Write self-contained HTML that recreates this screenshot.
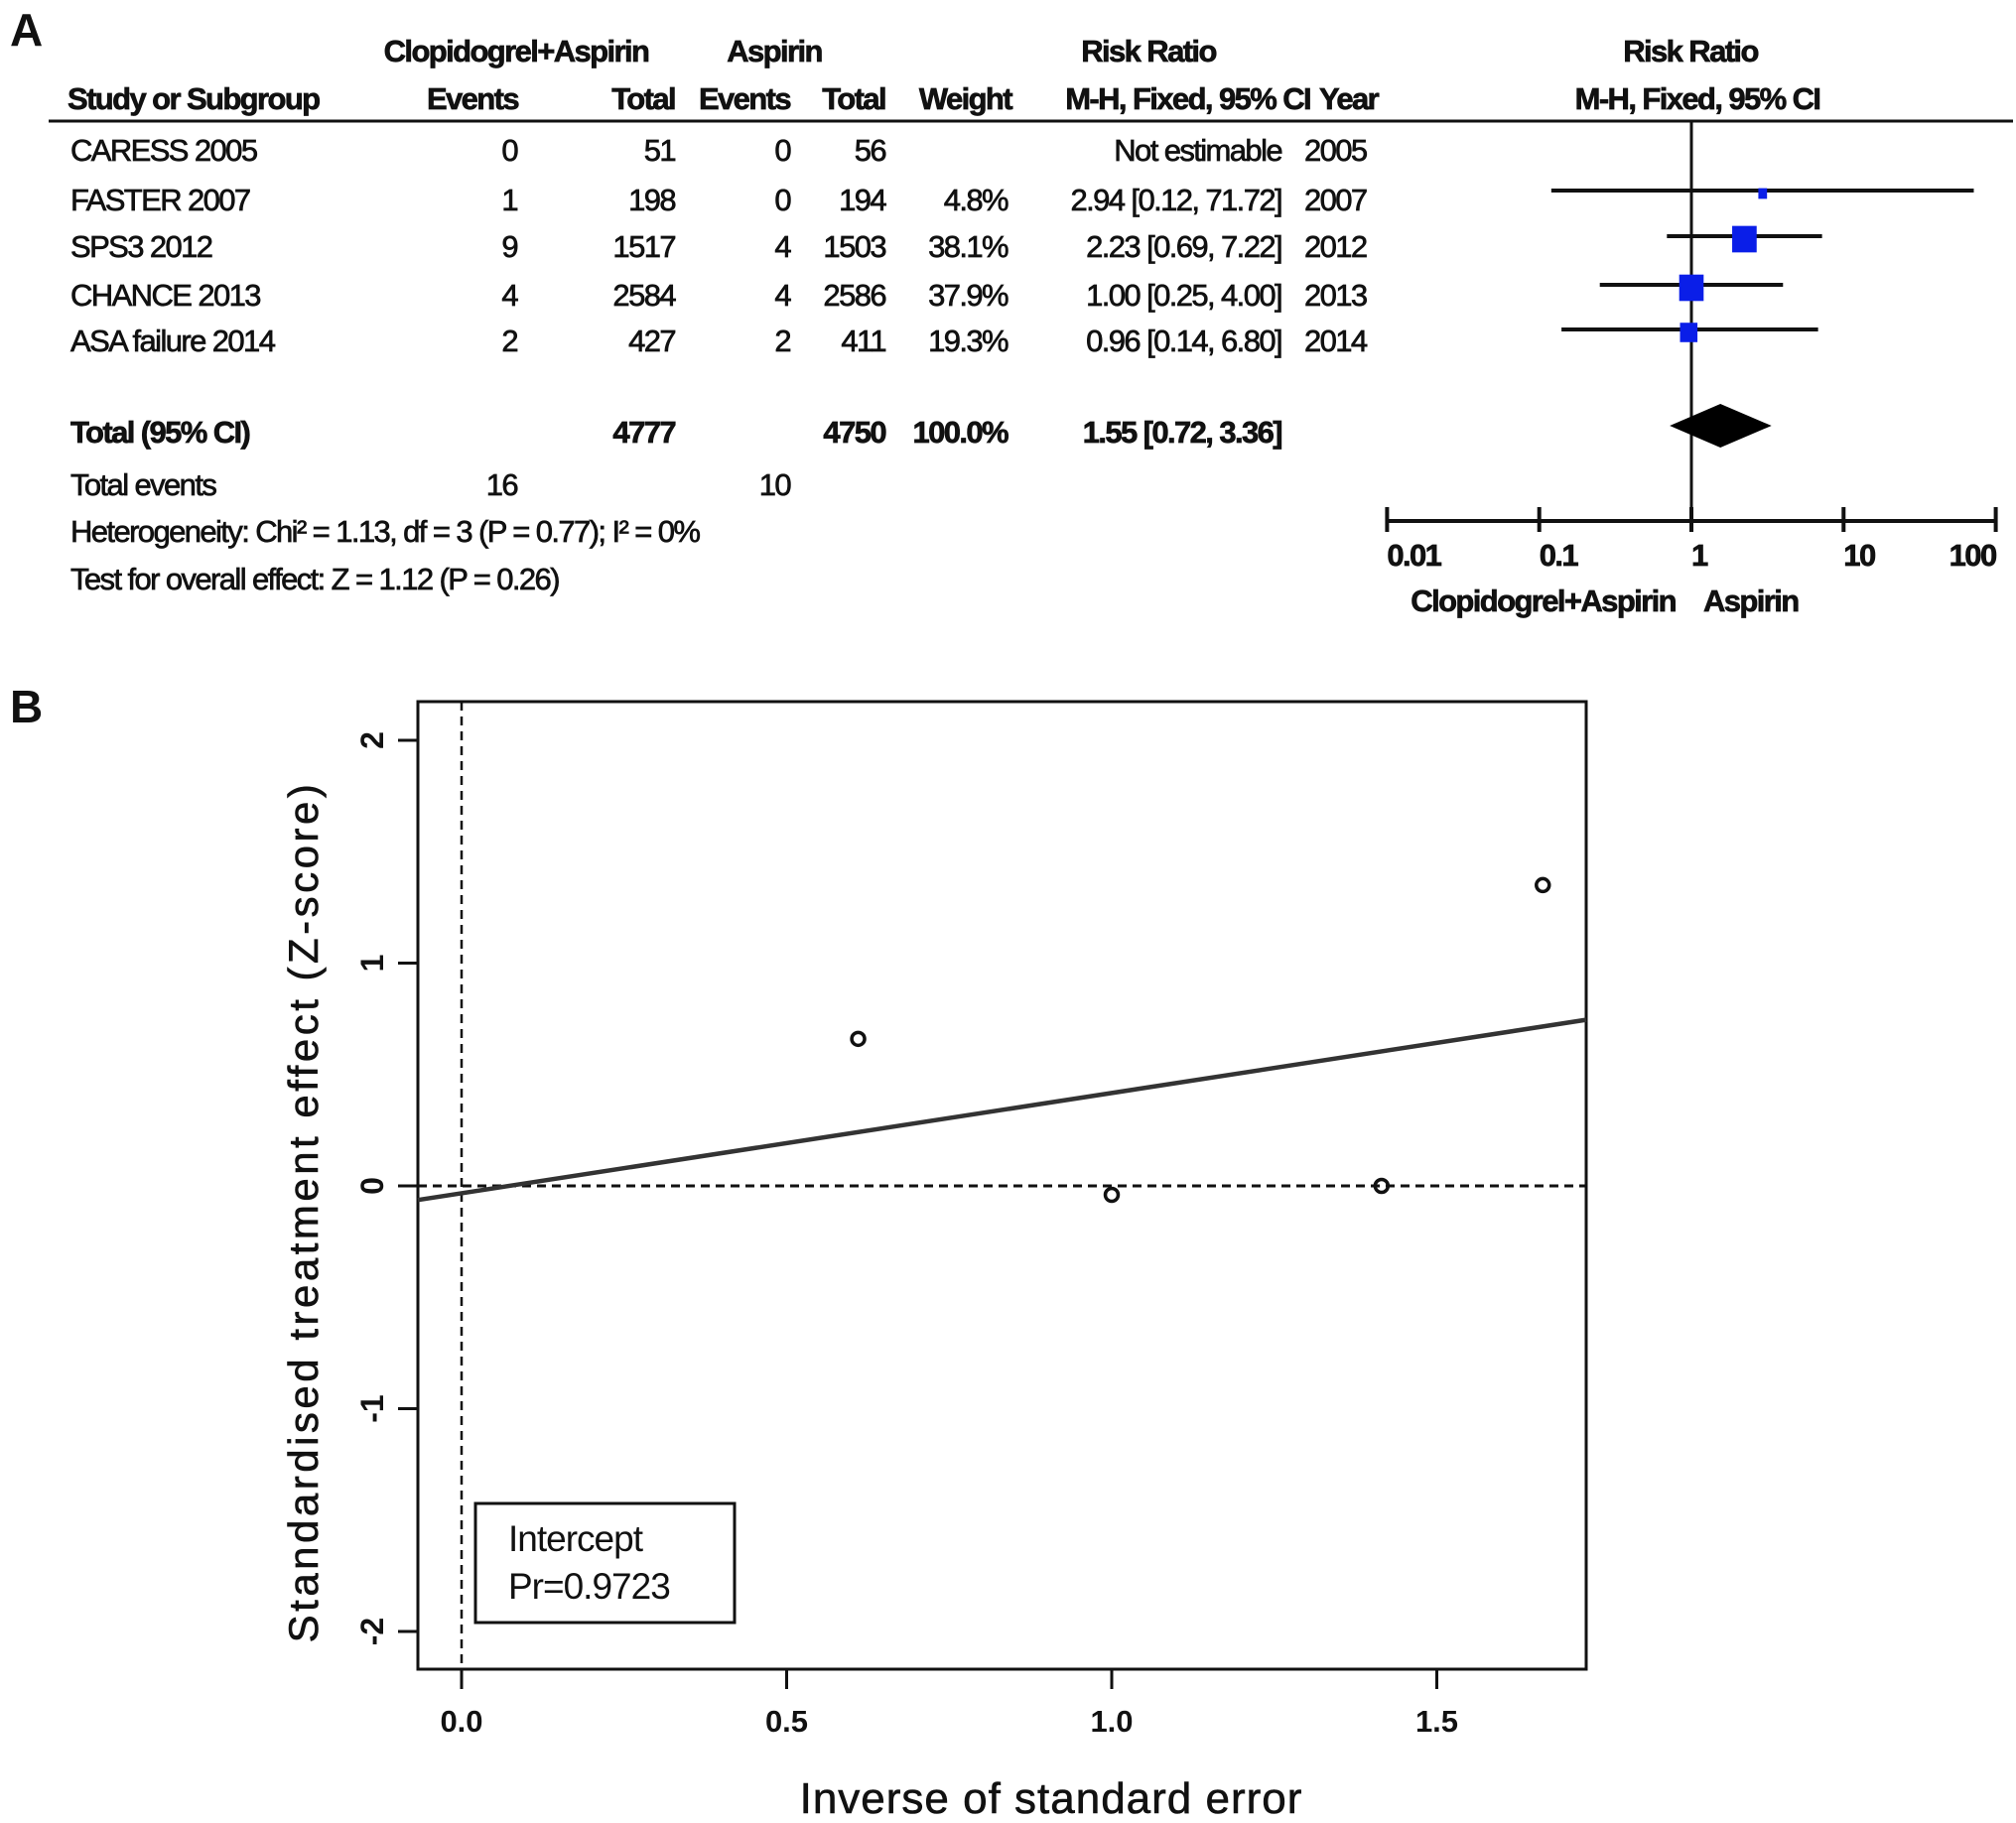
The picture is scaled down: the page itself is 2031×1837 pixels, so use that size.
<!DOCTYPE html>
<html><head><meta charset="utf-8"><style>
html,body{margin:0;padding:0;background:#fff;}
svg{display:block;}
.t{font-family:"Liberation Sans",sans-serif;font-size:31px;fill:#111;letter-spacing:-1.6px;stroke:#111;stroke-width:0.7px;}
.b{font-weight:bold;}
.p{font-family:"Liberation Sans",sans-serif;fill:#111;}
</style></head><body>
<svg id="fig" width="2031" height="1837" viewBox="0 0 2031 1837" xmlns="http://www.w3.org/2000/svg">
<g id="panelA">
<text x="10" y="46" class="p b" font-size="46">A</text>
<text x="520" y="62" text-anchor="middle" class="t b">Clopidogrel+Aspirin</text>
<text x="780" y="62" text-anchor="middle" class="t b">Aspirin</text>
<text x="1157" y="62" text-anchor="middle" class="t b">Risk Ratio</text>
<text x="1703" y="62" text-anchor="middle" class="t b">Risk Ratio</text>
<text x="68" y="110" class="t b">Study or Subgroup</text>
<text x="522" y="110" text-anchor="end" class="t b">Events</text>
<text x="680" y="110" text-anchor="end" class="t b">Total</text>
<text x="796" y="110" text-anchor="end" class="t b">Events</text>
<text x="892" y="110" text-anchor="end" class="t b">Total</text>
<text x="1019" y="110" text-anchor="end" class="t b">Weight</text>
<text x="1320" y="110" text-anchor="end" class="t b">M-H, Fixed, 95% CI</text>
<text x="1329" y="110" class="t b">Year</text>
<text x="1710" y="110" text-anchor="middle" class="t b">M-H, Fixed, 95% CI</text>
<line x1="49" y1="122" x2="2028" y2="122" stroke="#111" stroke-width="3"/>
<g id="rows"></g>
<text x="71" y="446" class="t b">Total (95% CI)</text>
<text x="680" y="446" text-anchor="end" class="t b">4777</text>
<text x="892" y="446" text-anchor="end" class="t b">4750</text>
<text x="1015" y="446" text-anchor="end" class="t b">100.0%</text>
<text x="1291" y="446" text-anchor="end" class="t b">1.55 [0.72, 3.36]</text>
<text x="71" y="499" class="t">Total events</text>
<text x="521" y="499" text-anchor="end" class="t">16</text>
<text x="796" y="499" text-anchor="end" class="t">10</text>
<text x="71" y="546" class="t">Heterogeneity: Chi² = 1.13, df = 3 (P = 0.77); I² = 0%</text>
<text x="71" y="594" class="t">Test for overall effect: Z = 1.12 (P = 0.26)</text>
<g id="forest"></g>
</g>
<g id="panelB">
<text x="10" y="728" class="p b" font-size="46">B</text>
<g id="gal"></g>
</g>
</svg>
<script>
// ---- Forest plot data ----
const studies = ["CARESS 2005","FASTER 2007","SPS3 2012","CHANCE 2013","ASA failure 2014"];
const evC = [0,1,9,4,2];
const totC = [51,198,1517,2584,427];
const evA = [0,0,4,4,2];
const totA = [56,194,1503,2586,411];
const weights = [null,4.8,38.1,37.9,19.3];
const rr = [null,2.94,2.23,1.00,0.96];
const lo = [null,0.12,0.69,0.25,0.14];
const hi = [null,71.72,7.22,4.00,6.80];
const years = [2005,2007,2012,2013,2014];
const totalRR = [1.55,0.72,3.36];
const forestTicks = [0.01,0.1,1,10,100];
const forestTickLabels = ["0.01","0.1","1","10","100"];

// ---- Galbraith plot data ----
const galX = [0.61,1.00,1.415,1.663];
const galZ = [0.66,-0.04,0.0,1.35];
const regIntercept = -0.033;
const regSlope = 0.45;
const xTicks = [0.0,0.5,1.0,1.5];
const xTickLabels = ["0.0","0.5","1.0","1.5"];
const yTicks = [-2,-1,0,1,2];
const yTickLabels = ["-2","-1","0","1","2"];

const NS="http://www.w3.org/2000/svg";
function mk(tag,attrs,parent,txt){const e=document.createElementNS(NS,tag);for(const k in attrs)e.setAttribute(k,attrs[k]);if(txt!==undefined)e.textContent=txt;parent.appendChild(e);return e;}

const rowsG=document.getElementById('rows');
const rowBase=[162,212,259,308,354];
studies.forEach((s,i)=>{
  const y=rowBase[i];
  let e;
  e=mk('text',{x:71,y:y,class:'t'},rowsG,s);
  
  
  e=mk('text',{x:521,y:y,'text-anchor':'end',class:'t'},rowsG,evC[i]);
  
  
  e=mk('text',{x:680,y:y,'text-anchor':'end',class:'t'},rowsG,totC[i]);
  
  
  e=mk('text',{x:796,y:y,'text-anchor':'end',class:'t'},rowsG,evA[i]);
  
  
  e=mk('text',{x:892,y:y,'text-anchor':'end',class:'t'},rowsG,totA[i]);
  
  
  if(weights[i]!==null){
    e=mk('text',{x:1015,y:y,'text-anchor':'end',class:'t'},rowsG,weights[i].toFixed(1)+'%');
    
    
  }
  const rrTxt = rr[i]===null ? 'Not estimable' : rr[i].toFixed(2)+' ['+lo[i].toFixed(2)+', '+hi[i].toFixed(2)+']';
  e=mk('text',{x:1291,y:y,'text-anchor':'end',class:'t'},rowsG,rrTxt);
  
  
  e=mk('text',{x:1314,y:y,class:'t'},rowsG,years[i]);
  
  
});

const fG=document.getElementById('forest');
const fx=v=>1704+153.3*Math.log10(v);
let e;
e=mk('line',{x1:fx(1),y1:122,x2:fx(1),y2:527,stroke:'#111','stroke-width':3},fG);


e=mk('line',{x1:fx(forestTicks[0]),y1:525,x2:fx(forestTicks[forestTicks.length-1]),y2:525,stroke:'#111','stroke-width':4},fG);


forestTicks.forEach((t,i)=>{
  let el=mk('line',{x1:fx(t),y1:511,x2:fx(t),y2:536,stroke:'#111','stroke-width':4},fG);
  
  
  const anchor = i===forestTicks.length-1?'end':'start';
  el=mk('text',{x:fx(t),y:570,'text-anchor':anchor,class:'t b'},fG,forestTickLabels[i]);
  
  
});
e=mk('text',{x:1688,y:616,'text-anchor':'end',class:'t b'},fG,'Clopidogrel+Aspirin');


e=mk('text',{x:1716,y:616,class:'t b'},fG,'Aspirin');


const rowMid=[0,192,238,287,332];
rr.forEach((v,i)=>{
  if(v===null)return;
  const y=rowMid[i];
  let el=mk('line',{x1:fx(lo[i]),y1:y,x2:fx(hi[i]),y2:y,stroke:'#111','stroke-width':4},fG);
  
  
  const s=4*Math.sqrt(weights[i]);
  el=mk('rect',{x:fx(v)-s/2,y:y-s/2+2,width:s,height:s+2,fill:'#0a1ee8'},fG);
  
  
});
const dy=429;
e=mk('polygon',{points:`${fx(totalRR[1])},${dy} ${fx(totalRR[0])},${dy-22} ${fx(totalRR[2])},${dy} ${fx(totalRR[0])},${dy+22}`,fill:'#000'},fG);



const gG=document.getElementById('gal');
const L=421,R=1598,T=707,B=1682;
const gx=v=>465+v*655;
const gy=v=>1195-v*224.5;
e=mk('rect',{x:L,y:T,width:R-L,height:B-T,fill:'none',stroke:'#111','stroke-width':3},gG);


e=mk('line',{x1:gx(0),y1:T,x2:gx(0),y2:B+20,stroke:'#111','stroke-width':2.5,'stroke-dasharray':'9,6'},gG);


e=mk('line',{x1:L,y1:gy(0),x2:R,y2:gy(0),stroke:'#111','stroke-width':3,'stroke-dasharray':'9,6'},gG);


const x0=(L-465)/655, x1=(R-465)/655;
e=mk('line',{x1:L,y1:gy(regIntercept+regSlope*x0),x2:R,y2:gy(regIntercept+regSlope*x1),stroke:'#333','stroke-width':4.5},gG);


galX.forEach((v,i)=>{
  const el=mk('circle',{cx:gx(v),cy:gy(galZ[i]),r:6.5,fill:'none',stroke:'#111','stroke-width':3.5},gG);
  
  
});
xTicks.forEach((t,i)=>{
  let el=mk('line',{x1:gx(t),y1:B,x2:gx(t),y2:B+20,stroke:'#111','stroke-width':3},gG);
  
  
  el=mk('text',{x:gx(t),y:1745,'text-anchor':'middle',class:'p b','font-size':31},gG,xTickLabels[i]);
  
  
});
yTicks.forEach((t,i)=>{
  let el=mk('line',{x1:L-20,y1:gy(t),x2:L,y2:gy(t),stroke:'#111','stroke-width':3},gG);
  
  
  el=mk('text',{x:0,y:0,'text-anchor':'middle',class:'p b','font-size':32,transform:`translate(386,${gy(t)}) rotate(-90)`},gG,yTickLabels[i]);
  
  
});
e=mk('text',{x:0,y:0,'text-anchor':'middle',class:'p','font-size':42,'letter-spacing':'3.5',stroke:'#111','stroke-width':0.6,transform:'translate(320,1221) rotate(-90)'},gG,'Standardised treatment effect (Z-score)');


e=mk('text',{x:1059,y:1827,'text-anchor':'middle',class:'p','font-size':44,'letter-spacing':'1',stroke:'#111','stroke-width':0.6},gG,'Inverse of standard error');


e=mk('rect',{x:479,y:1515,width:261,height:120,fill:'#fff',stroke:'#111','stroke-width':3},gG);


e=mk('text',{x:512,y:1563,class:'p','font-size':37,'letter-spacing':'-1'},gG,'Intercept');


e=mk('text',{x:512,y:1611,class:'p','font-size':37,'letter-spacing':'-1'},gG,'Pr=0.9723');


</script>
</body></html>
